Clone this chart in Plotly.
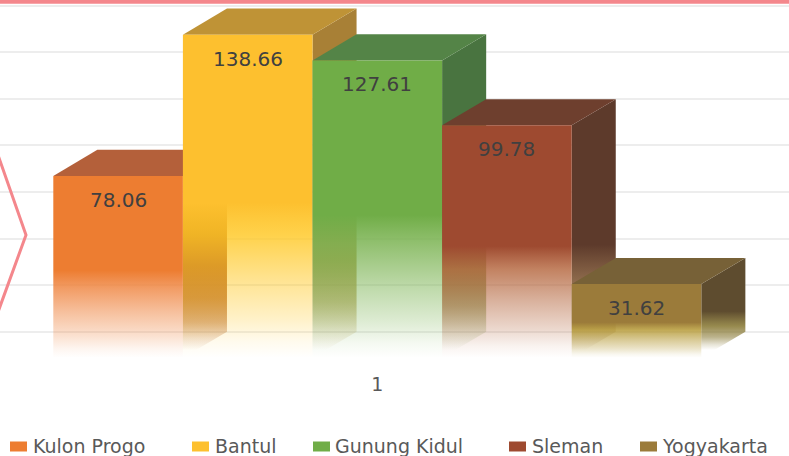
import plotly.graph_objects as go

# ---- data -------------------------------------------------------------
categories = ["Kulon Progo", "Bantul", "Gunung Kidul", "Sleman", "Yogyakarta"]
values = [78.06, 138.66, 127.61, 99.78, 31.62]
group_labels = ["1"]
grid_values = [0, 20, 40, 60, 80, 100, 120, 140]

# ---- colours ----------------------------------------------------------
front_colors = ["#ED7D31", "#FDC02F", "#70AD47", "#9E4A30", "#9B7B3A"]
front_lower = ["#EF8744", "#FFC824", "#7BB352", "#B5673F", "#B3962F"]
top_colors = ["#B4603A", "#BF9336", "#548447", "#6E3F2E", "#776137"]
side_colors = ["#A9562C", "#A88036", "#497440", "#5D3A2B", "#5E4C2F"]
side_lower = ["#B4642A", "#A88A30", "#6A8A35", "#7E5530", "#85752F"]
label_color = "#404040"
text_color = "#595959"
accent = "#F4878C"
grid_color = "#EDEDED"
FONT = "DejaVu Sans"

# ---- layout geometry ----------------------------------------------------
W, H = 789, 456
BOTTOM = 91                       # room for category label and legend
PLOT_H = H - BOTTOM
X_RANGE = [-0.9113, 5.1767]
Y_RANGE = [-3.09, 153.56]
DEPTH_X = 0.34                    # 3-D depth offset, x units
DEPTH_Y = 11.2                    # 3-D depth offset, y units
HALF = 0.5


def paper_x(px):
    return px / W


def paper_y(py):
    return 1 - py / PLOT_H


def rgba(hex_color, a):
    h = hex_color.lstrip("#")
    r, g, b = int(h[0:2], 16), int(h[2:4], 16), int(h[4:6], 16)
    return f"rgba({r},{g},{b},{a})"


def front_fade(low, high):
    return [
        [0.0, rgba(low, 0.0)],
        [0.05, rgba(low, 0.08)],
        [0.12, rgba(low, 0.25)],
        [0.25, rgba(low, 0.52)],
        [0.38, rgba(low, 0.82)],
        [0.48, rgba(high, 1.0)],
        [1.0, rgba(high, 1.0)],
    ]


def side_fade(low, high):
    return [
        [0.0, rgba(low, 0.0)],
        [0.06, rgba(low, 0.2)],
        [0.14, rgba(low, 0.55)],
        [0.26, rgba(low, 0.85)],
        [0.42, rgba(high, 1.0)],
        [1.0, rgba(high, 1.0)],
    ]


fig = go.Figure()

for i, (name, v) in enumerate(zip(categories, values)):
    x0, x1 = i - HALF, i + HALF
    # right side face
    fig.add_trace(go.Scatter(
        x=[x1, x1 + DEPTH_X, x1 + DEPTH_X, x1, x1],
        y=[0, DEPTH_Y, v + DEPTH_Y, v, 0],
        mode="lines", line=dict(width=0), fill="toself",
        fillgradient=dict(type="vertical", colorscale=side_fade(side_lower[i], side_colors[i]),
                          start=DEPTH_Y * 0.3, stop=v + DEPTH_Y),
        hoverinfo="skip", showlegend=False,
    ))
    # top face
    fig.add_trace(go.Scatter(
        x=[x0, x1, x1 + DEPTH_X, x0 + DEPTH_X, x0],
        y=[v, v, v + DEPTH_Y, v + DEPTH_Y, v],
        mode="lines", line=dict(width=0), fill="toself",
        fillcolor=top_colors[i], hoverinfo="skip", showlegend=False,
    ))
    # front face
    fig.add_trace(go.Scatter(
        x=[x0, x1, x1, x0, x0],
        y=[0, 0, v, v, 0],
        mode="lines", line=dict(width=0), fill="toself",
        fillgradient=dict(type="vertical", colorscale=front_fade(front_lower[i], front_colors[i]),
                          start=0, stop=v),
        name=name, hoverinfo="skip", showlegend=False,
    ))
    # value label
    fig.add_annotation(x=i, y=v, yshift=-24, text=f"{v:.2f}", showarrow=False,
                       xanchor="center", yanchor="middle",
                       font=dict(family=FONT, size=20, color=label_color))

shapes = []
# accent bar across the top
shapes.append(dict(type="rect", xref="paper", yref="paper",
                   x0=0, x1=1, y0=paper_y(3.8), y1=paper_y(0),
                   fillcolor=accent, line=dict(width=0), layer="above"))
# chevron on the left edge
shapes.append(dict(type="path", xref="paper", yref="paper",
                   path=(f"M {paper_x(-2)},{paper_y(155)} L {paper_x(26)},{paper_y(235)} "
                         f"L {paper_x(-2)},{paper_y(312)}"),
                   line=dict(color=accent, width=3), layer="above"))

# legend: swatch + label per series
legend_swatch_x = [10, 192, 313, 509, 640]
legend_text_x = [31, 213, 333, 530, 660]
for i, name in enumerate(categories):
    sx = legend_swatch_x[i]
    shapes.append(dict(type="rect", xref="paper", yref="paper",
                       x0=paper_x(sx), x1=paper_x(sx + 17),
                       y0=paper_y(451.5), y1=paper_y(441.5),
                       fillcolor=front_colors[i], line=dict(width=0)))
    fig.add_annotation(x=paper_x(legend_text_x[i]), y=paper_y(446), xref="paper", yref="paper",
                       text=name, showarrow=False, xanchor="left", yanchor="middle",
                       font=dict(family=FONT, size=19, color=text_color))

fig.update_layout(
    width=W, height=H,
    margin=dict(l=0, r=0, t=0, b=BOTTOM),
    paper_bgcolor="white", plot_bgcolor="white",
    shapes=shapes,
    showlegend=False,
    xaxis=dict(range=X_RANGE, showgrid=False, zeroline=False, showline=False,
               tickvals=[(len(categories) - 1) / 2], ticktext=group_labels, ticks="",
               ticklabelstandoff=6,
               tickfont=dict(family=FONT, size=19, color=text_color), fixedrange=True),
    yaxis=dict(range=Y_RANGE, tickvals=[g + DEPTH_Y for g in grid_values],
               showticklabels=False, showgrid=True, gridcolor=grid_color, gridwidth=2,
               zeroline=False, showline=False, ticks="", fixedrange=True),
)

fig.write_html("out.html")
